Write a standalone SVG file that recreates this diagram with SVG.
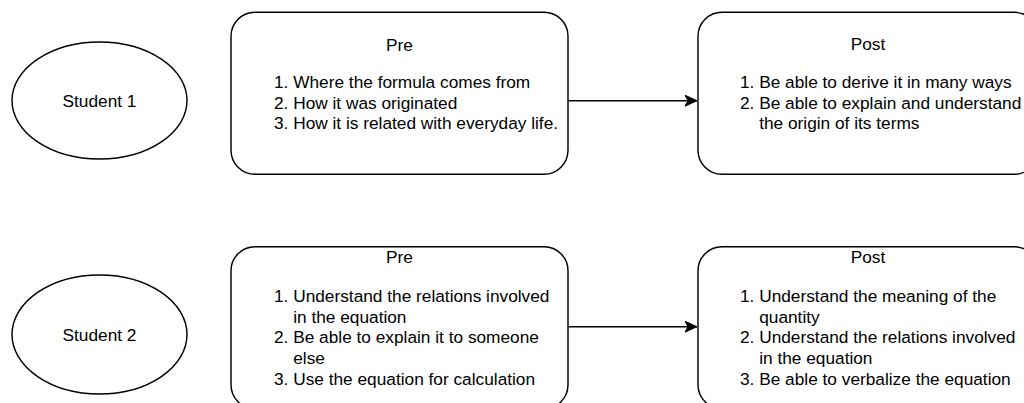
<svg xmlns="http://www.w3.org/2000/svg" width="1024" height="403" viewBox="0 0 1024 403">
<defs>
<style>
.shape{fill:#fff;stroke:#000;stroke-width:1.44}
.t{font-family:"Liberation Sans",Arial,Helvetica,sans-serif;font-size:17.28px;fill:#000}
.c{text-anchor:middle}
.edge{fill:none;stroke:#000;stroke-width:1.44}
</style>
<marker id="arrow" viewBox="0 0 12 12" refX="12" refY="6" markerWidth="12" markerHeight="12" markerUnits="userSpaceOnUse" orient="auto">
<path d="M0,0.5 L12,6 L0,11.5 L3,6 Z" fill="#000" stroke="#000" stroke-width="1"/>
</marker>
</defs>
<rect width="1024" height="403" fill="#fff"/>
<g id="connectors">
<line class="edge" x1="568" y1="100.7" x2="697" y2="100.7" marker-end="url(#arrow)"/>
<line class="edge" x1="568" y1="326.7" x2="697" y2="326.7" marker-end="url(#arrow)"/>
</g>
<g id="student1">
<ellipse class="shape" cx="99.5" cy="100.5" rx="87.5" ry="58.5"/>
<text class="t c" x="99.5" y="106.5">Student 1</text>
</g>
<g id="pre1">
<rect class="shape" x="231" y="12.3" width="337" height="162" rx="24" ry="24"/>
<text class="t c" x="399.5" y="51">Pre</text>
<text class="t" x="274" y="88">1. Where the formula comes from</text>
<text class="t" x="274" y="108.7">2. How it was originated</text>
<text class="t" x="274" y="129.4">3. How it is related with everyday life.</text>
</g>
<g id="post1">
<rect class="shape" x="698" y="12.3" width="340" height="162" rx="24" ry="24"/>
<text class="t c" x="868" y="50">Post</text>
<text class="t" x="740" y="88">1. Be able to derive it in many ways</text>
<text class="t" x="740" y="108.7">2. Be able to explain and understand</text>
<text class="t" x="759.2" y="129.4">the origin of its terms</text>
</g>
<g id="student2">
<ellipse class="shape" cx="99.5" cy="334.5" rx="87.5" ry="59.5"/>
<text class="t c" x="99.5" y="340.5">Student 2</text>
</g>
<g id="pre2">
<rect class="shape" x="231" y="246.7" width="337" height="162" rx="24" ry="24"/>
<text class="t c" x="399.5" y="263">Pre</text>
<text class="t" x="274" y="302">1. Understand the relations involved</text>
<text class="t" x="293.2" y="322.7">in the equation</text>
<text class="t" x="274" y="343.4">2. Be able to explain it to someone</text>
<text class="t" x="293.2" y="364.1">else</text>
<text class="t" x="274" y="384.8">3. Use the equation for calculation</text>
</g>
<g id="post2">
<rect class="shape" x="698" y="246.7" width="340" height="162" rx="24" ry="24"/>
<text class="t c" x="868" y="263">Post</text>
<text class="t" x="740" y="302">1. Understand the meaning of the</text>
<text class="t" x="759.2" y="322.7">quantity</text>
<text class="t" x="740" y="343.4">2. Understand the relations involved</text>
<text class="t" x="759.2" y="364.1">in the equation</text>
<text class="t" x="740" y="384.8">3. Be able to verbalize the equation</text>
</g>
</svg>
